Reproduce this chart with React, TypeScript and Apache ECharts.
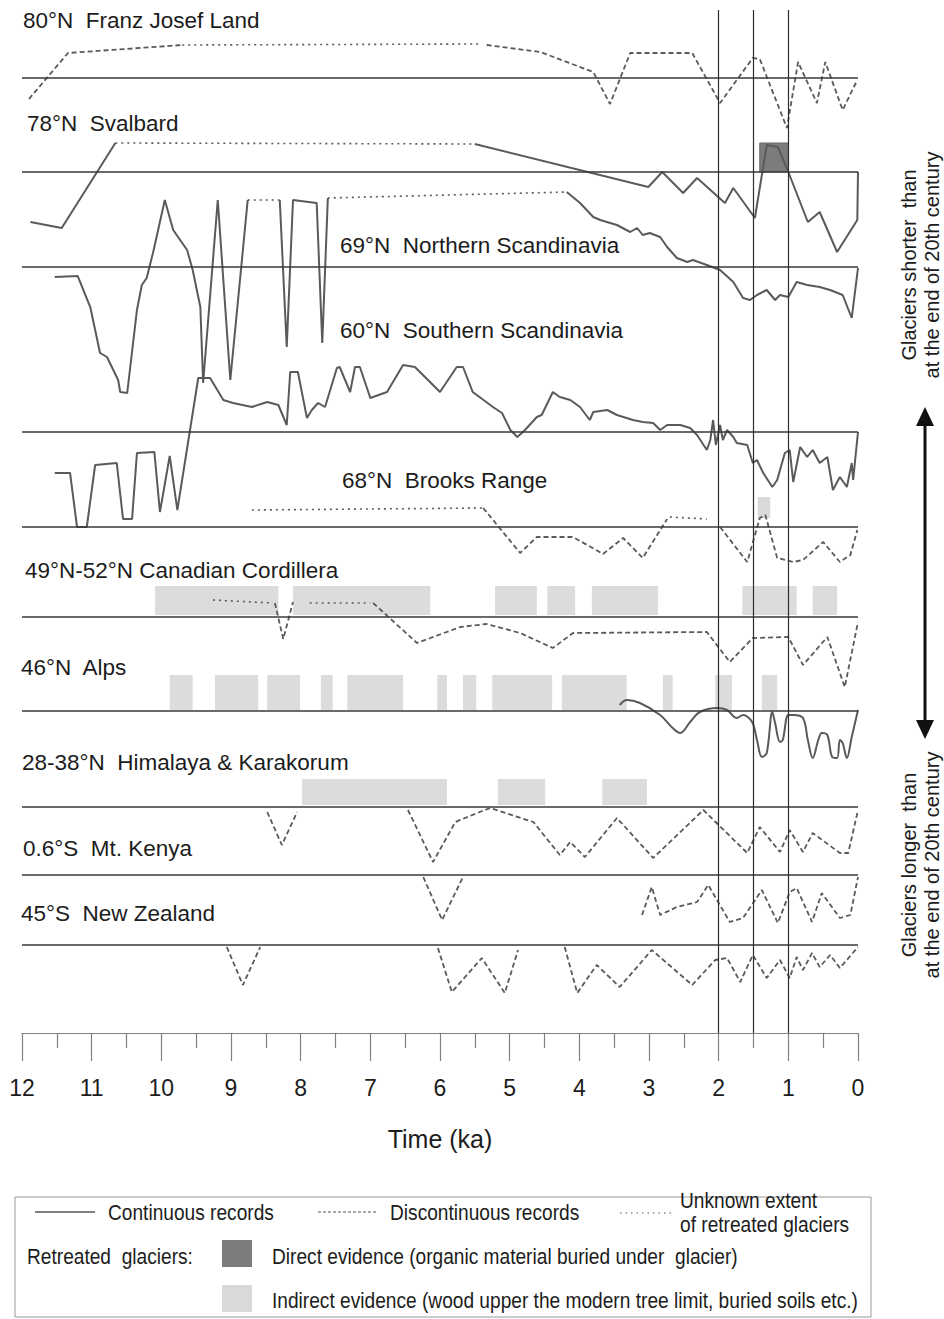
import React, { useEffect, useRef } from "react";
import * as echarts from "echarts";

type Pt = [number, number];
type Span = [number, number, number, number]; // startKa, endKa, bottom, top (anomaly units)

// ---------------- axis ----------------
const TIME_MIN = 0;
const TIME_MAX = 12;
const TIME_STEP = 1;
const MARKER_TIMES = [2, 1.5, 1];

// ---------------- records: [time ka, glacier anomaly] (+ = shorter than late 20th c.) ----------------
// 80°N Franz Josef Land
const franzDisc1: Pt[] = [[11.9, -21], [11.34, 25], [9.7, 33]];
const franzUnknown: Pt[] = [[9.7, 33], [5.4, 34]];
const franzDisc2: Pt[] = [
  [5.33, 33], [4.56, 26], [3.8, 6], [3.56, -26], [3.27, 25], [2.38, 25], [1.98, -25],
  [1.51, 20], [1.41, 19], [1.02, -50], [0.86, 16], [0.59, -25], [0.47, 16], [0.22, -32], [0.01, -2],
];
// 78°N Svalbard
const svalCont1: Pt[] = [[11.88, -50], [11.43, -56], [10.66, 29]];
const svalUnknown: Pt[] = [[10.66, 29], [5.5, 28]];
const svalCont2: Pt[] = [
  [5.5, 28], [3.01, -15], [2.81, 0], [2.51, -21], [2.31, -6], [1.91, -31], [1.79, -16], [1.48, -46],
  [1.31, 27], [1.15, 25], [1.0, 0], [0.72, -50], [0.55, -40], [0.3, -80], [0.01, -48], [0, 0],
];
const svalDirect: Span[] = [[1.41, 1.0, 0, 29]];
// 69°N Northern Scandinavia
const nscCont1: Pt[] = [
  [11.53, -10], [11.2, -9], [11.02, -40], [10.88, -86], [10.78, -90], [10.62, -113], [10.59, -125],
  [10.49, -126], [10.35, -43], [10.28, -18], [10.21, -11], [10.12, 14], [9.95, 67], [9.83, 37],
  [9.63, 17], [9.55, -3], [9.44, -40], [9.4, -116], [9.19, 67], [9.01, -113], [8.76, 67],
];
const nscUnknown1: Pt[] = [[8.76, 67], [8.3, 67]];
const nscCont2: Pt[] = [[8.3, 67], [8.2, -80], [8.11, 67], [7.77, 64], [7.69, -76], [7.61, 69]];
const nscUnknown2: Pt[] = [[7.61, 69], [4.18, 75]];
const nscCont3: Pt[] = [
  [4.18, 75], [3.99, 64], [3.8, 50], [3.7, 47], [3.46, 42], [3.27, 35], [3.17, 39], [3.09, 32],
  [2.99, 34], [2.84, 30], [2.74, 20], [2.6, 9], [2.45, 5], [2.37, 7], [2.17, 2], [1.98, -3],
  [1.79, -15], [1.65, -31], [1.55, -33], [1.45, -28], [1.31, -23], [1.19, -33], [1.12, -28],
  [1.0, -30], [0.88, -15], [0.73, -18], [0.55, -20], [0.4, -23], [0.22, -28], [0.09, -51], [0, -1],
];
// 60°N Southern Scandinavia
const sscCont: Pt[] = [
  [11.53, -41], [11.31, -41], [11.21, -95], [11.07, -95], [10.95, -33], [10.64, -31], [10.55, -87],
  [10.42, -87], [10.35, -21], [10.1, -20], [10.02, -80], [9.88, -24], [9.77, -78], [9.47, 54],
  [9.3, 54], [9.11, 32], [8.97, 29], [8.7, 25], [8.48, 30], [8.32, 27], [8.2, 7], [8.15, 60],
  [8.04, 60], [7.91, 14], [7.84, 22], [7.75, 29], [7.65, 25], [7.48, 64], [7.44, 65], [7.29, 40],
  [7.22, 65], [7.15, 65], [7.0, 34], [6.76, 40], [6.53, 67], [6.36, 65], [6.0, 40], [5.76, 65],
  [5.67, 65], [5.53, 40], [5.24, 25], [5.11, 19], [4.99, 2], [4.89, -5], [4.78, 2], [4.61, 15],
  [4.54, 17], [4.38, 40], [4.28, 35], [4.13, 32], [3.99, 25], [3.85, 12], [3.8, 20], [3.6, 22],
  [3.46, 17], [3.23, 12], [3.09, 10], [2.94, 9], [2.84, 2], [2.74, 7], [2.55, 7], [2.41, 4],
  [2.31, -3], [2.17, -18], [2.12, -8], [2.08, 12], [2.04, -13], [1.98, 7], [1.94, -8], [1.88, 2],
  [1.79, -5], [1.74, -11], [1.59, -13], [1.51, -31], [1.45, -28], [1.36, -41], [1.23, -55],
  [1.16, -48], [1.05, -21], [0.98, -18], [0.93, -50], [0.83, -15], [0.73, -25], [0.65, -18],
  [0.55, -31], [0.44, -25], [0.36, -58], [0.26, -45], [0.16, -55], [0.09, -31], [0.07, -48], [0, 0],
];
// 68°N Brooks Range
const brooksUnknown1: Pt[] = [[8.7, 17], [5.38, 19]];
const brooksDisc1: Pt[] = [
  [5.38, 19], [4.85, -26], [4.61, -10], [4.09, -10], [3.66, -27], [3.37, -11], [3.09, -31], [2.74, 8],
];
const brooksUnknown2: Pt[] = [[2.7, 10], [2.17, 8]];
const brooksDisc2: Pt[] = [
  [1.98, 0], [1.59, -35], [1.41, 9], [1.33, 12], [1.16, -31], [0.93, -35], [0.79, -33], [0.5, -15],
  [0.26, -35], [0.11, -28], [0.01, -3],
];
const brooksIndirect: Span[] = [[1.44, 1.26, 9, 30]];
// 49°N-52°N Canadian Cordillera
const canUnknown1: Pt[] = [[9.26, 17], [8.4, 14]];
const canDisc1: Pt[] = [[8.37, 14], [8.25, -22], [8.11, 15]];
const canUnknown2: Pt[] = [[7.87, 14], [7.0, 14]];
const canDisc2: Pt[] = [
  [6.96, 14], [6.33, -26], [6.14, -21], [5.71, -10], [5.33, -7], [4.85, -16], [4.38, -31], [4.09, -16],
  [2.17, -15], [1.84, -45], [1.51, -21], [1.0, -20], [0.79, -48], [0.44, -20], [0.19, -70], [0, -5],
];
const canIndirect: Span[] = [
  [10.09, 8.32, 2, 31], [8.11, 6.14, 2, 31], [5.21, 4.61, 2, 31], [4.46, 4.06, 2, 31],
  [3.82, 2.87, 2, 31], [1.66, 0.88, 2, 31], [0.65, 0.3, 2, 31],
];
// 46°N Alps
const alpsCont: Pt[] = [
  [3.42, 6], [3.32, 11], [3.13, 8], [2.84, -4], [2.66, -17], [2.55, -22], [2.41, -11], [2.27, -1],
  [2.02, 3], [1.88, 1], [1.74, -7], [1.65, -4], [1.52, -11], [1.45, -29], [1.38, -46], [1.31, -42],
  [1.23, -1], [1.19, -12], [1.12, -31], [1.08, -29], [1.0, -4], [0.93, -4], [0.79, -7], [0.72, -29],
  [0.65, -47], [0.57, -29], [0.52, -22], [0.44, -24], [0.37, -46], [0.3, -47], [0.26, -29],
  [0.22, -32], [0.16, -47], [0.09, -26], [0, 1],
];
const alpsIndirect: Span[] = [
  [9.88, 9.55, 1, 36], [9.23, 8.61, 1, 36], [8.48, 8.01, 1, 36], [7.71, 7.54, 1, 36],
  [7.33, 6.53, 1, 36], [6.04, 5.9, 1, 36], [5.67, 5.48, 1, 36], [5.25, 4.39, 1, 36],
  [4.25, 3.32, 1, 36], [2.8, 2.66, 1, 36], [2.05, 1.81, 1, 36], [1.38, 1.16, 1, 36],
];
// 28-38°N Himalaya & Karakorum
const himDisc1: Pt[] = [[8.48, -5], [8.27, -38], [8.05, -5]];
const himDisc2: Pt[] = [
  [6.46, -3], [6.1, -55], [5.78, -15], [5.43, -5], [5.28, -1], [4.66, -15], [4.28, -48], [4.13, -35],
  [3.92, -50], [3.46, -11], [2.94, -51], [2.22, -3], [1.59, -46], [1.41, -20], [1.12, -45], [0.98, -23],
  [0.79, -45], [0.65, -26], [0.26, -46], [0.14, -46], [0, -3],
];
const himIndirect: Span[] = [[7.98, 5.9, 2, 28], [5.17, 4.49, 2, 28], [3.67, 3.03, 2, 28]];
// 0.6°S Mt. Kenya
const kenyaDisc1: Pt[] = [[6.24, -2], [5.97, -45], [5.67, -2]];
const kenyaDisc2: Pt[] = [
  [3.1, -40], [2.96, -12], [2.84, -40], [2.6, -32], [2.31, -27], [2.15, -10], [1.84, -47], [1.65, -43],
  [1.38, -15], [1.15, -48], [0.98, -17], [0.88, -13], [0.66, -47], [0.52, -18], [0.26, -43], [0.11, -40], [0, -2],
];
// 45°S New Zealand
const nzDisc1: Pt[] = [[9.06, -2], [8.83, -40], [8.58, -2]];
const nzDisc2: Pt[] = [[6.03, -3], [5.83, -47], [5.4, -13], [5.07, -48], [4.88, -5]];
const nzDisc3: Pt[] = [
  [4.21, -2], [4.03, -48], [3.75, -20], [3.42, -42], [2.96, -5], [2.38, -40], [2.05, -15], [1.88, -13],
  [1.69, -37], [1.51, -10], [1.31, -33], [1.12, -15], [0.98, -33], [0.88, -12], [0.79, -25], [0.66, -8],
  [0.55, -22], [0.4, -10], [0.26, -23], [0, -2],
];

const RECORD_LABELS = [
  "80°N  Franz Josef Land", "78°N  Svalbard", "69°N  Northern Scandinavia", "60°N  Southern Scandinavia",
  "68°N  Brooks Range", "49°N-52°N Canadian Cordillera", "46°N  Alps", "28-38°N  Himalaya & Karakorum",
  "0.6°S  Mt. Kenya", "45°S  New Zealand",
];

// ---------------- layout (not data) ----------------
const ROW_BASE = { franz: 955, sval: 861, nsc: 766, ssc: 601, brooks: 506, can: 416, alps: 322, him: 226, kenya: 158, nz: 88 };
const LABEL_POS: [number, number][] = [
  [23, 20], [27, 123], [340, 245], [340, 330], [342, 480], [25, 570], [21, 667], [22, 762], [23, 848], [21, 913],
];

const SANS = '"Liberation Sans", Arial, Helvetica, sans-serif';
const LINE_COLOR = "#5a5a5a";
const DASH = [5, 3];
const DOT = [2, 4];
const NARROW_SCALE = 0.87;

type Kind = "solid" | "dash" | "dot";

function lineSeries(data: Pt[], base: number, kind: Kind, smooth = false): any {
  return {
    type: "line",
    data: data.map(([t, v]) => [t, v + base]),
    symbol: "none",
    smooth: smooth ? 0.35 : false,
    silent: true,
    clip: false,
    z: 3,
    lineStyle: {
      color: LINE_COLOR,
      width: kind === "solid" ? 2 : kind === "dash" ? 1.8 : 1.6,
      type: kind === "solid" ? "solid" : kind === "dash" ? DASH : DOT,
    },
  };
}

function spanSeries(spans: Span[], base: number, fill: string, stroke?: string): any {
  return {
    type: "custom",
    silent: true,
    clip: false,
    z: 1,
    encode: { x: [0, 1], y: [2, 3] },
    data: spans.map(([s, e, lo, hi]) => [s, e, lo + base, hi + base]),
    renderItem: (_p: any, api: any) => {
      const a = api.coord([api.value(0), api.value(3)]);
      const b = api.coord([api.value(1), api.value(2)]);
      return {
        type: "rect",
        shape: {
          x: Math.min(a[0], b[0]),
          y: Math.min(a[1], b[1]),
          width: Math.abs(b[0] - a[0]),
          height: Math.abs(b[1] - a[1]),
        },
        style: { fill, stroke: stroke || null, lineWidth: stroke ? 1 : 0 },
      };
    },
  };
}

function txt(x: number, y: number, text: string, size: number, extra: any = {}): any {
  const { align, lineHeight, ...rest } = extra;
  return {
    type: "text",
    x,
    y,
    silent: true,
    z: 10,
    ...rest,
    style: {
      text,
      fontFamily: SANS,
      fontSize: size,
      fill: "#1c1c1c",
      align: align || "left",
      textAlign: align || "left",
      verticalAlign: "middle",
      textVerticalAlign: "middle",
      lineHeight: lineHeight || size * 1.2,
    },
  };
}

// narrow-looking legend text (horizontally condensed)
function ntxt(x: number, y: number, text: string, size: number, extra: any = {}): any {
  return txt(x, y, text, size, { scaleX: NARROW_SCALE, ...extra });
}

export default function App() {
  const ref = useRef<HTMLDivElement>(null);
  useEffect(() => {
    if (!ref.current) return;
    const chart = echarts.init(ref.current, undefined, { renderer: "svg" });
    const R = ROW_BASE;
    const series: any[] = [
      spanSeries(svalDirect, R.sval, "#7c7c7c", "#666"),
      spanSeries(brooksIndirect, R.brooks, "#d9d9d9"),
      spanSeries(canIndirect, R.can, "#dcdcdc"),
      spanSeries(alpsIndirect, R.alps, "#dcdcdc"),
      spanSeries(himIndirect, R.him, "#dcdcdc"),
      lineSeries(franzDisc1, R.franz, "dash"),
      lineSeries(franzUnknown, R.franz, "dot"),
      lineSeries(franzDisc2, R.franz, "dash"),
      lineSeries(svalCont1, R.sval, "solid"),
      lineSeries(svalUnknown, R.sval, "dot"),
      lineSeries(svalCont2, R.sval, "solid"),
      lineSeries(nscCont1, R.nsc, "solid"),
      lineSeries(nscUnknown1, R.nsc, "dot"),
      lineSeries(nscCont2, R.nsc, "solid"),
      lineSeries(nscUnknown2, R.nsc, "dot"),
      lineSeries(nscCont3, R.nsc, "solid"),
      lineSeries(sscCont, R.ssc, "solid"),
      lineSeries(brooksUnknown1, R.brooks, "dot"),
      lineSeries(brooksDisc1, R.brooks, "dash"),
      lineSeries(brooksUnknown2, R.brooks, "dot"),
      lineSeries(brooksDisc2, R.brooks, "dash"),
      lineSeries(canUnknown1, R.can, "dot"),
      lineSeries(canDisc1, R.can, "dash"),
      lineSeries(canUnknown2, R.can, "dot"),
      lineSeries(canDisc2, R.can, "dash"),
      lineSeries(alpsCont, R.alps, "solid", true),
      lineSeries(himDisc1, R.him, "dash"),
      lineSeries(himDisc2, R.him, "dash"),
      lineSeries(kenyaDisc1, R.kenya, "dash"),
      lineSeries(kenyaDisc2, R.kenya, "dash"),
      lineSeries(nzDisc1, R.nz, "dash"),
      lineSeries(nzDisc2, R.nz, "dash"),
      lineSeries(nzDisc3, R.nz, "dash"),
      {
        type: "line",
        data: [],
        silent: true,
        markLine: {
          silent: true,
          symbol: ["none", "none"],
          label: { show: false },
          lineStyle: { color: "#383838", width: 1.6, type: "solid" },
          data: Object.values(ROW_BASE).map((v) => ({ yAxis: v })),
        },
        z: 4,
      },
      {
        type: "line",
        data: [],
        silent: true,
        markLine: {
          silent: true,
          symbol: ["none", "none"],
          label: { show: false },
          lineStyle: { color: "#2e2e2e", width: 1.2, type: "solid" },
          data: MARKER_TIMES.map((t) => ({ xAxis: t })),
        },
        z: 4,
      },
    ];

    const graphic: any[] = [];
    RECORD_LABELS.forEach((l, i) => graphic.push(txt(LABEL_POS[i][0], LABEL_POS[i][1], l, 22.5)));
    // right side annotations
    graphic.push(
      txt(920, 265, "Glaciers shorter  than\nat the end of 20th century", 20, {
        rotation: Math.PI / 2,
        align: "center",
        lineHeight: 23,
      }),
      txt(920, 865, "Glaciers longer  than\nat the end of 20th century", 20, {
        rotation: Math.PI / 2,
        align: "center",
        lineHeight: 23,
      }),
      { type: "line", silent: true, shape: { x1: 925, y1: 420, x2: 925, y2: 726 }, style: { stroke: "#111", lineWidth: 3 } },
      { type: "polygon", silent: true, shape: { points: [[925, 407], [916, 426], [934, 426]] }, style: { fill: "#111" } },
      { type: "polygon", silent: true, shape: { points: [[925, 739], [916, 720], [934, 720]] }, style: { fill: "#111" } }
    );
    // legend box
    graphic.push(
      { type: "rect", silent: true, shape: { x: 15, y: 1197, width: 856, height: 120 }, style: { fill: "none", stroke: "#999", lineWidth: 1 } },
      { type: "line", silent: true, shape: { x1: 35, y1: 1212, x2: 95, y2: 1212 }, style: { stroke: "#555", lineWidth: 1.5 } },
      ntxt(108, 1212, "Continuous records", 22),
      { type: "line", silent: true, shape: { x1: 318, y1: 1212, x2: 377, y2: 1212 }, style: { stroke: "#555", lineWidth: 1.2, lineDash: [3, 2] } },
      ntxt(390, 1212, "Discontinuous records", 22),
      { type: "line", silent: true, shape: { x1: 620, y1: 1213, x2: 672, y2: 1213 }, style: { stroke: "#555", lineWidth: 1.2, lineDash: [1.5, 4] } },
      ntxt(680, 1212, "Unknown extent\nof retreated glaciers", 22, { lineHeight: 24 }),
      ntxt(27, 1256, "Retreated  glaciers:", 22),
      { type: "rect", silent: true, shape: { x: 222, y: 1240, width: 30, height: 27 }, style: { fill: "#7c7c7c" } },
      ntxt(272, 1256, "Direct evidence (organic material buried under  glacier)", 22),
      { type: "rect", silent: true, shape: { x: 222, y: 1285, width: 30, height: 27 }, style: { fill: "#d9d9d9" } },
      ntxt(272, 1300, "Indirect evidence (wood upper the modern tree limit, buried soils etc.)", 22)
    );

    chart.setOption({
      animation: false,
      backgroundColor: "#ffffff",
      grid: { left: 22, right: 86, top: 10, bottom: 286, containLabel: false },
      xAxis: {
        type: "value",
        min: TIME_MIN,
        max: TIME_MAX,
        interval: TIME_STEP,
        inverse: true,
        position: "bottom",
        name: "Time (ka)",
        nameLocation: "middle",
        nameGap: 93,
        nameTextStyle: { fontFamily: SANS, fontSize: 25, color: "#1c1c1c", verticalAlign: "top" },
        axisLine: { show: true, onZero: false, lineStyle: { color: "#808080", width: 1.2 } },
        axisTick: { show: true, inside: false, length: 28, lineStyle: { color: "#808080", width: 1.2 } },
        minorTick: { show: true, splitNumber: 2, length: 15, lineStyle: { color: "#808080", width: 1.2 } },
        axisLabel: { fontFamily: SANS, fontSize: 23, color: "#1c1c1c", margin: 43 },
        splitLine: { show: false },
        minorSplitLine: { show: false },
      },
      yAxis: { type: "value", min: 0, max: 1023, show: false, splitLine: { show: false } },
      series,
      graphic,
    });
    return () => chart.dispose();
  }, []);
  return <div ref={ref} style={{ position: "absolute", left: 0, top: 0, width: 944, height: 1319 }} />;
}
